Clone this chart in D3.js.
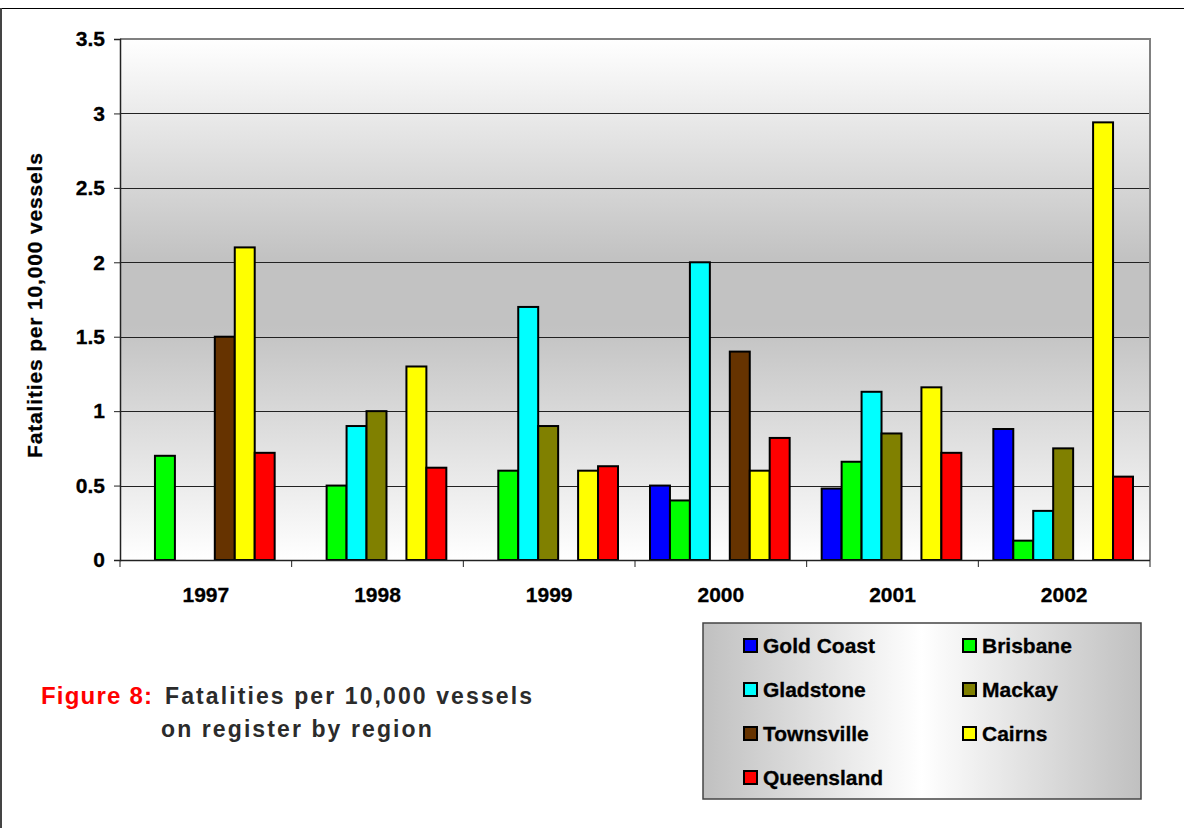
<!DOCTYPE html>
<html>
<head>
<meta charset="utf-8">
<script src="https://cdn.jsdelivr.net/npm/d3@7"></script>
<style>
  html, body { margin: 0; padding: 0; background: #fff; }
  svg { display: block; font-family: "Liberation Sans", Arial, sans-serif; font-weight: bold; }
</style>
</head>
<body>
<div id="chart"></div>
<script>
// --- data ---
const years = ['1997', '1998', '1999', '2000', '2001', '2002'];
const regions = ['Gold Coast', 'Brisbane', 'Gladstone', 'Mackay', 'Townsville', 'Cairns', 'Queensland'];
const regionColors = ['#0000ff', '#00ff00', '#00ffff', '#808000', '#663300', '#ffff00', '#ff0000'];

const goldCoast  = [null, null, null, 0.5, 0.48, 0.88];
const brisbane   = [0.7, 0.5, 0.6, 0.4, 0.66, 0.13];
const gladstone  = [null, 0.9, 1.7, 2.0, 1.13, 0.33];
const mackay     = [null, 1.0, 0.9, null, 0.85, 0.75];
const townsville = [1.5, null, null, 1.4, null, null];
const cairns     = [2.1, 1.3, 0.6, 0.6, 1.16, 2.94];
const queensland = [0.72, 0.62, 0.63, 0.82, 0.72, 0.56];

const yTicks = [0, 0.5, 1, 1.5, 2, 2.5, 3, 3.5];
const yTitle = 'Fatalities per 10,000 vessels';
const captionLabel = 'Figure 8:';
const captionLines = ['Fatalities per 10,000 vessels', 'on register by region'];

const seriesValues = [goldCoast, brisbane, gladstone, mackay, townsville, cairns, queensland];

const width = 1184;
const height = 828;
const plot = { left: 120, right: 1150, top: 39, bottom: 560 };
const fontFamily = '"Liberation Sans", Arial, sans-serif';

const svg = d3.select('#chart')
  .append('svg')
  .attr('width', width)
  .attr('height', height);

const defs = svg.append('defs');

// vertical white -> grey -> white wash behind the bars
const plotGrad = defs.append('linearGradient')
  .attr('id', 'plot-bg')
  .attr('x1', 0).attr('y1', 0).attr('x2', 0).attr('y2', 1);
plotGrad.append('stop').attr('offset', '0%').attr('stop-color', '#ffffff');
plotGrad.append('stop').attr('offset', '42%').attr('stop-color', '#c2c2c2');
plotGrad.append('stop').attr('offset', '55%').attr('stop-color', '#c2c2c2');
plotGrad.append('stop').attr('offset', '100%').attr('stop-color', '#ffffff');

// horizontal grey -> white -> grey for the legend box
const legendGrad = defs.append('linearGradient')
  .attr('id', 'legend-bg')
  .attr('x1', 0).attr('y1', 0).attr('x2', 1).attr('y2', 0);
legendGrad.append('stop').attr('offset', '0%').attr('stop-color', '#c0c0c0');
legendGrad.append('stop').attr('offset', '50%').attr('stop-color', '#ffffff');
legendGrad.append('stop').attr('offset', '100%').attr('stop-color', '#c0c0c0');

// page frame: top rule and left rule
svg.append('line')
  .attr('x1', 0).attr('x2', width).attr('y1', 8.5).attr('y2', 8.5)
  .attr('stroke', '#000').attr('stroke-width', 1);
svg.append('line')
  .attr('x1', 1).attr('x2', 1).attr('y1', 8).attr('y2', height)
  .attr('stroke', '#444').attr('stroke-width', 2);

// scales
const x0 = d3.scaleBand()
  .domain(years)
  .range([plot.left, plot.right])
  .padding(0);

const groupPad = 15;
const x1 = d3.scaleBand()
  .domain(regions)
  .range([groupPad, x0.bandwidth() - groupPad - 2])
  .padding(0);

const y = d3.scaleLinear()
  .domain([0, 3.5])
  .range([plot.bottom, plot.top]);

const color = d3.scaleOrdinal().domain(regions).range(regionColors);

// plot background
svg.append('rect')
  .attr('x', plot.left)
  .attr('y', plot.top)
  .attr('width', plot.right - plot.left)
  .attr('height', plot.bottom - plot.top)
  .attr('fill', 'url(#plot-bg)');

// gridlines
svg.append('g')
  .attr('class', 'grid')
  .selectAll('line')
  .data(yTicks.filter((d) => d > 0 && d < 3.5))
  .join('line')
  .attr('x1', plot.left)
  .attr('x2', plot.right)
  .attr('y1', (d) => Math.round(y(d)) + 0.5)
  .attr('y2', (d) => Math.round(y(d)) + 0.5)
  .attr('stroke', '#222')
  .attr('stroke-width', 1);

// plot frame top and right (grey)
svg.append('path')
  .attr('d', `M${plot.left},${plot.top} H${plot.right} V${plot.bottom}`)
  .attr('fill', 'none')
  .attr('stroke', '#808080')
  .attr('stroke-width', 2);

// bars
const barData = [];
years.forEach((yr, i) => {
  regions.forEach((r, j) => {
    const v = seriesValues[j][i];
    if (v !== null && v !== undefined) barData.push({ year: yr, region: r, value: v });
  });
});

svg.append('g')
  .attr('class', 'bars')
  .selectAll('rect')
  .data(barData)
  .join('rect')
  .attr('x', (d) => x0(d.year) + x1(d.region))
  .attr('y', (d) => y(d.value))
  .attr('width', x1.bandwidth())
  .attr('height', (d) => y(0) - y(d.value))
  .attr('fill', (d) => color(d.region))
  .attr('stroke', '#000')
  .attr('stroke-width', 2);

// axes
const yAxis = d3.axisLeft(y)
  .tickValues(yTicks)
  .tickFormat((d) => String(d))
  .tickSize(6)
  .tickPadding(9);

const yAxisG = svg.append('g')
  .attr('transform', `translate(${plot.left},0)`)
  .call(yAxis);
yAxisG.select('.domain').attr('stroke', '#222').attr('stroke-width', 1.5);
yAxisG.selectAll('.tick line').attr('stroke', '#222');
yAxisG.selectAll('.tick text')
  .attr('font-size', 21)
  .attr('font-weight', 'bold')
  .attr('font-family', fontFamily)
  .attr('fill', '#000')
  .attr('stroke', '#000')
  .attr('stroke-width', 0.3);

const xAxisG = svg.append('g')
  .attr('transform', `translate(0,${plot.bottom})`);
xAxisG.append('line')
  .attr('x1', plot.left).attr('x2', plot.right)
  .attr('y1', 0.5).attr('y2', 0.5)
  .attr('stroke', '#222').attr('stroke-width', 1.5);
xAxisG.selectAll('line.tick')
  .data(years.concat(['end']))
  .join('line')
  .attr('class', 'tick')
  .attr('x1', (d) => (d === 'end' ? plot.right : x0(d)))
  .attr('x2', (d) => (d === 'end' ? plot.right : x0(d)))
  .attr('y1', 0).attr('y2', 7)
  .attr('stroke', '#222');
xAxisG.selectAll('text')
  .data(years)
  .join('text')
  .attr('x', (d) => x0(d) + x0.bandwidth() / 2)
  .attr('y', 42)
  .attr('text-anchor', 'middle')
  .attr('font-size', 21)
  .attr('fill', '#000')
  .attr('stroke', '#000')
  .attr('stroke-width', 0.3)
  .text((d) => d);

// y axis title
svg.append('text')
  .attr('transform', `translate(42,${(153 + 458) / 2}) rotate(-90)`)
  .attr('text-anchor', 'middle')
  .attr('font-size', 21)
  .attr('textLength', 305)
  .attr('lengthAdjust', 'spacing')
  .attr('fill', '#000')
  .attr('stroke', '#000')
  .attr('stroke-width', 0.3)
  .text(yTitle);

// legend
const legend = { x: 703, y: 623, w: 438, h: 176 };
const legendG = svg.append('g').attr('class', 'legend');
legendG.append('rect')
  .attr('x', legend.x).attr('y', legend.y)
  .attr('width', legend.w).attr('height', legend.h)
  .attr('fill', 'url(#legend-bg)')
  .attr('stroke', '#444')
  .attr('stroke-width', 1.5);

const legendItems = legendG.selectAll('g.item')
  .data(regions)
  .join('g')
  .attr('class', 'item')
  .attr('transform', (d, i) =>
    `translate(${legend.x + (i % 2 === 0 ? 41 : 260)},${legend.y + 16 + Math.floor(i / 2) * 44})`);

legendItems.append('rect')
  .attr('x', 0).attr('y', 0)
  .attr('width', 13).attr('height', 13)
  .attr('fill', (d) => color(d))
  .attr('stroke', '#000')
  .attr('stroke-width', 2);

legendItems.append('text')
  .attr('x', 19)
  .attr('y', 14)
  .attr('font-size', 21)
  .attr('fill', '#000')
  .attr('stroke', '#000')
  .attr('stroke-width', 0.3)
  .text((d) => d);

// caption
const caption = svg.append('g').attr('class', 'caption');
caption.append('text')
  .attr('x', 41)
  .attr('y', 704)
  .attr('font-size', 24)
  .attr('letter-spacing', 1.2)
  .attr('fill', '#ff0000')
  .text(captionLabel);
caption.selectAll('text.line')
  .data(captionLines)
  .join('text')
  .attr('class', 'line')
  .attr('x', (d, i) => (i === 0 ? 165 : 161))
  .attr('y', (d, i) => 704 + i * 33)
  .attr('font-size', 23)
  .attr('letter-spacing', 2.1)
  .attr('fill', '#2b2b2b')
  .text((d) => d);
</script>
</body>
</html>
